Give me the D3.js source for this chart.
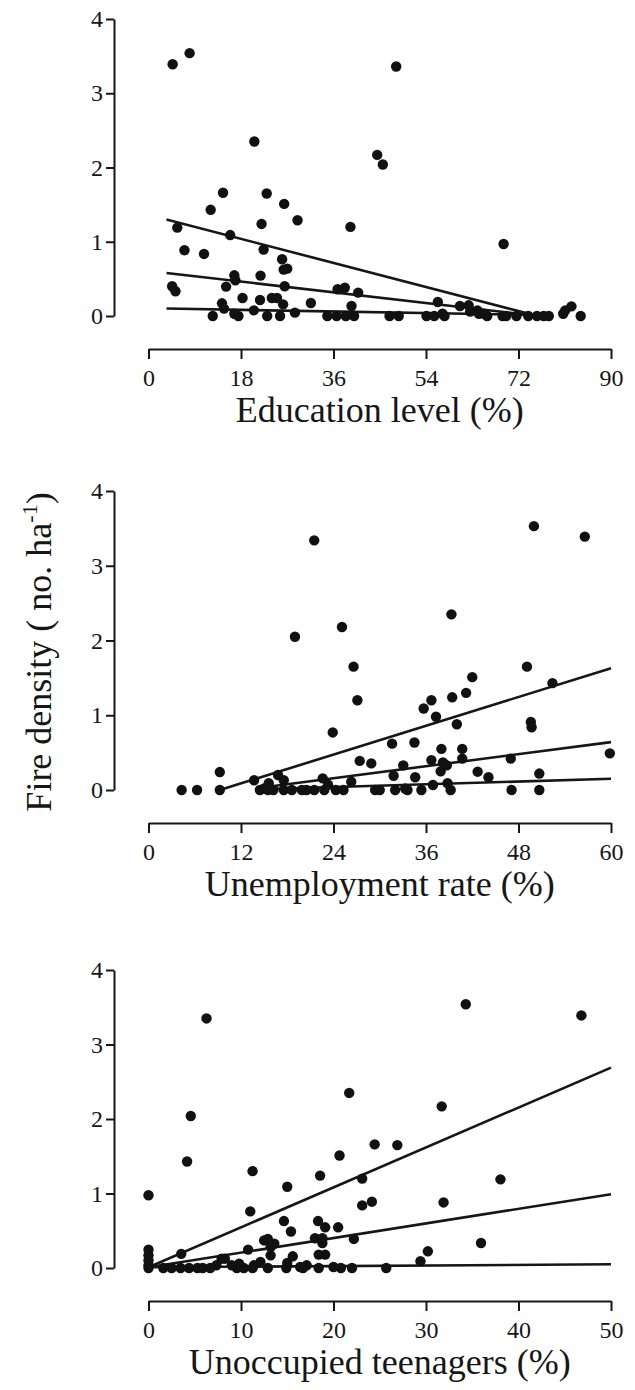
<!DOCTYPE html>
<html>
<head>
<meta charset="utf-8">
<script src="https://cdn.jsdelivr.net/npm/d3@7"></script>
<style>
  html, body { margin: 0; padding: 0; background: #fff; }
  svg { display: block; font-family: "Liberation Serif", "DejaVu Serif", serif; }
</style>
</head>
<body>
<svg id="chart" width="635" height="1390"></svg>
<script>
// ---- Fire density vs. socio-economic drivers ----
const yTicks = [0, 1, 2, 3, 4];

// Education level (%)
const eduTicks = [0, 18, 36, 54, 72, 90];
const eduX = [4.7, 8.0, 48.2, 20.6, 44.5, 45.6, 14.5, 23.0, 26.4, 12.1, 29.0, 22.0, 5.6, 39.3, 15.9, 69.1,
  7.0, 10.8, 22.4, 26.0, 26.3, 27.0, 16.7, 21.8, 16.9, 4.6, 5.25, 15.1, 26.5, 36.8, 38.2, 40.8,
  18.3, 21.7, 24.0, 25.0, 14.3, 26.2, 31.6, 39.5, 56.3, 14.7, 20.5, 60.6, 62.3, 80.7, 82.3, 81.1,
  12.5, 17.5, 16.7, 23.1, 25.6, 28.5, 34.8, 36.6, 38.4, 40.0, 46.9, 48.7, 54.1, 55.6, 57.2, 57.6,
  62.6, 64.3, 65.9, 68.9, 71.6, 73.9, 75.6, 76.9, 77.9, 84.1, 64.0, 65.3, 69.6];
const eduY = [3.39, 3.54, 3.36, 2.35, 2.17, 2.04, 1.66, 1.65, 1.51, 1.43, 1.29, 1.24, 1.19, 1.20, 1.09, 0.97,
  0.885, 0.836, 0.894, 0.764, 0.625, 0.638, 0.548, 0.544, 0.481, 0.40, 0.333, 0.396, 0.40, 0.36, 0.38, 0.315,
  0.243, 0.216, 0.243, 0.243, 0.171, 0.157, 0.175, 0.135, 0.189, 0.10, 0.076, 0.135, 0.144, 0.03, 0.13, 0.076,
  0, 0, 0.03, 0, 0, 0.045, 0, 0, 0, 0, 0, 0, 0, 0, 0.03, 0,
  0.06, 0.03, 0, 0, 0, 0, 0, 0, 0, 0, 0.076, 0.03, 0];
// fitted lines: [start, end] as [x, y]
const eduFits = [
  [[3.5, 1.30], [74.6, 0.02]],
  [[3.5, 0.58], [74.6, 0.01]],
  [[3.5, 0.10], [74.6, 0.015]]
];

// Unemployment rate (%)
const unempTicks = [0, 12, 24, 36, 48, 60];
const unempX = [4.3, 6.3, 9.25, 9.25, 13.7, 14.45, 15.0, 15.6, 16.8, 17.55, 17.55, 18.6, 19.0, 19.9, 21.5, 21.5,
  22.6, 22.8, 23.9, 24.3, 25.1, 25.3, 26.3, 26.6, 27.1, 27.4, 28.9, 29.4, 31.6, 31.8, 32.0, 33.05,
  33.6, 34.5, 34.6, 35.4, 35.7, 36.7, 36.7, 36.9, 37.3, 38.0, 37.9, 38.2, 38.7, 38.8, 39.2, 39.3,
  39.4, 40.0, 40.7, 40.7, 41.2, 42.0, 42.7, 44.1, 47.0, 47.1, 49.1, 49.6, 49.7, 50.0, 50.7, 50.7,
  52.4, 56.6, 59.85, 15.5, 23.3, 33.3, 16.2, 20.5, 30.0];
const unempY = [0, 0, 0.24, 0, 0.13, 0, 0.02, 0.09, 0.20, 0.13, 0, 0, 2.05, 0, 3.34, 0,
  0.156, 0, 0.77, 0, 2.18, 0, 0.11, 1.65, 1.20, 0.39, 0.356, 0, 0.62, 0.19, 0, 0.33,
  0, 0.635, 0.17, 0, 1.09, 1.20, 0.40, 0.067, 0.98, 0.55, 0.25, 0.37, 0.33, 0.09, 0, 2.35,
  1.24, 0.88, 0.55, 0.42, 1.30, 1.51, 0.245, 0.17, 0.42, 0, 1.65, 0.91, 0.84, 3.53, 0.22, 0,
  1.43, 3.39, 0.49, 0, 0.07, 0.02, 0, 0, 0];
const unempFits = [
  [[9.25, 0.0], [60, 1.63]],
  [[14.5, 0.03], [60, 0.64]],
  [[14.5, 0.01], [60, 0.15]]
];

// Unoccupied teenagers (%)
const teenTicks = [0, 10, 20, 30, 40, 50];
const teenX = [0, 0, 0, 0, 0, 0, 3.54, 4.17, 4.57, 6.27, 11.25, 11.0, 10.77, 15.0, 14.64, 15.4,
  18.55, 18.33, 19.1, 20.5, 20.65, 21.7, 23.1, 23.1, 24.15, 24.45, 26.9, 22.2, 31.7, 31.9, 34.3, 35.95,
  38.05, 46.8, 30.2, 29.4, 25.7, 22.0, 20.8, 20.0, 18.4, 18.0, 18.8, 18.8, 18.4, 19.1, 17.1, 16.4,
  15.6, 15.0, 14.9, 13.6, 13.2, 12.5, 12.9, 13.2, 12.9, 12.1, 11.25, 10.3, 9.55, 9.8, 9.0, 8.26,
  7.9, 7.34, 6.67, 5.86, 5.3, 4.39, 3.47, 2.5, 1.6, 16.7, 11.4];
const teenY = [0.976, 0.246, 0.17, 0.10, 0.036, 0, 0.19, 1.43, 2.04, 3.35, 1.30, 0.76, 0.246, 1.09, 0.63, 0.49,
  1.24, 0.63, 0.546, 0.546, 1.51, 2.35, 1.20, 0.84, 0.89, 1.66, 1.65, 0.39, 2.17, 0.88, 3.54, 0.336,
  1.19, 3.39, 0.224, 0.09, 0, 0, 0, 0.013, 0, 0.40, 0.40, 0.336, 0.18, 0.18, 0.036, 0.013,
  0.157, 0.067, 0, 0.327, 0.28, 0.37, 0.39, 0.17, 0, 0.08, 0, 0, 0, 0.058, 0.036, 0.125,
  0.125, 0.036, 0, 0, 0, 0, 0, 0, 0, 0, 0.036];
const teenFits = [
  [[0, 0.01], [50, 2.69]],
  [[0, 0.01], [50, 0.99]],
  [[0, 0.01], [50, 0.05]]
];

// ---- layout of the three stacked panels ----
const panels = [
  { xs: eduX, ys: eduY, fits: eduFits, ticks: eduTicks, title: "Education level (%)",
    top: 19, bottom: 316, axisY: 349 },
  { xs: unempX, ys: unempY, fits: unempFits, ticks: unempTicks, title: "Unemployment rate (%)",
    top: 491, bottom: 790, axisY: 823 },
  { xs: teenX, ys: teenY, fits: teenFits, ticks: teenTicks, title: "Unoccupied teenagers (%)",
    top: 970, bottom: 1268, axisY: 1301 }
];
const xLeft = 148.5, xRight = 611, yAxisX = 114;
const ink = "#161616";

const svg = d3.select("#chart");

panels.forEach(p => {
  const g = svg.append("g");
  const x = d3.scaleLinear()
    .domain([p.ticks[0], p.ticks[p.ticks.length - 1]])
    .range([xLeft, xRight]);
  const y = d3.scaleLinear().domain([0, 4]).range([p.bottom, p.top]);

  // y axis (offset to the left of the plotting area)
  const ya = g.append("g")
    .attr("transform", `translate(${yAxisX},0)`)
    .call(d3.axisLeft(y).tickValues(yTicks).tickFormat(d3.format("d"))
      .tickSize(8).tickSizeOuter(0).tickPadding(3));
  // x axis (offset below)
  const xa = g.append("g")
    .attr("transform", `translate(0,${p.axisY})`)
    .call(d3.axisBottom(x).tickValues(p.ticks).tickFormat(d3.format("d"))
      .tickSize(10).tickSizeOuter(0));

  [ya, xa].forEach(a => {
    a.select(".domain").attr("stroke", ink).attr("stroke-width", 2);
    a.selectAll(".tick line").attr("stroke", ink).attr("stroke-width", 2);
    a.selectAll(".tick text")
      .attr("fill", ink)
      .style("font-family", "'Liberation Serif', serif")
      .style("font-size", "24px");
  });
  xa.selectAll(".tick text").attr("y", 37).attr("dy", null);

  // axis title
  g.append("text")
    .attr("x", (xLeft + xRight) / 2)
    .attr("y", p.axisY + 73)
    .attr("text-anchor", "middle")
    .attr("fill", ink)
    .style("font-size", "36px")
    .text(p.title);

  // quantile fit lines
  const line = d3.line().x(d => x(d[0])).y(d => y(d[1]));
  g.selectAll("path.fit")
    .data(p.fits)
    .join("path")
    .attr("class", "fit")
    .attr("d", line)
    .attr("fill", "none")
    .attr("stroke", ink)
    .attr("stroke-width", 2.6);

  // observations
  g.selectAll("circle")
    .data(d3.zip(p.xs, p.ys))
    .join("circle")
    .attr("cx", d => x(d[0]))
    .attr("cy", d => y(d[1]))
    .attr("r", 5.2)
    .attr("fill", "#111");
});

// shared y-axis title
const yt = svg.append("text")
  .attr("transform", "translate(51,652) rotate(-90)")
  .attr("text-anchor", "middle")
  .attr("fill", ink)
  .style("font-size", "36px");
yt.append("tspan").text("Fire density ( no. ha");
yt.append("tspan").attr("dy", -14).style("font-size", "22px").text("-1");
yt.append("tspan").attr("dy", 14).text(")");
</script>
</body>
</html>
